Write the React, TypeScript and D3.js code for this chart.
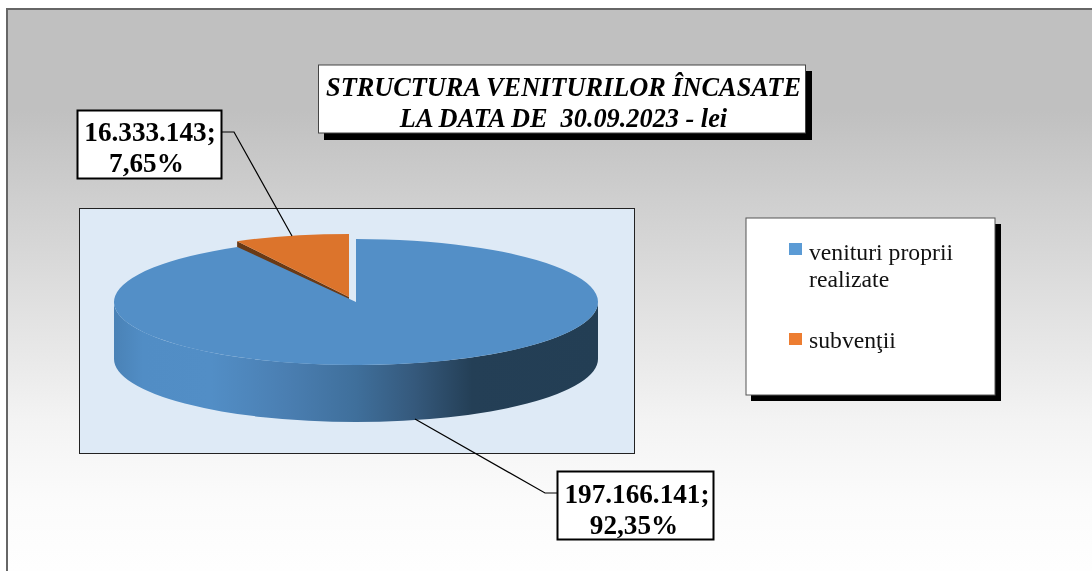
import * as d3 from "d3";

const categories = ["venituri proprii realizate", "subvenţii"];
const amounts = [197166141, 16333143];
const amountLabels = ["197.166.141;", "16.333.143;"];
const percentLabels = ["92,35%", "7,65%"];
const titleLines = ["STRUCTURA VENITURILOR ÎNCASATE", "LA DATA DE  30.09.2023 - lei"];
const legendColors = ["#5b9bd5", "#ed7d31"];

const WIDTH = 1092;
const HEIGHT = 571;
const FONT = "'Liberation Serif', serif";

// pie geometry
const cx = 356;
const cy = 302;
const rx = 242;
const ry = 63;
const depth = 57;
const explode = { x: -7, y: -5 };
const cutGap = (1.8 * Math.PI) / 180;

const slices = d3.pie<number>().sort(null).startAngle(0).endAngle(2 * Math.PI)(amounts);
const arc = d3.arc<any>().innerRadius(0).outerRadius(rx);

// angle is clockwise from 12 o'clock, as in d3.arc
const project = (a: number) => [rx * Math.sin(a), -ry * Math.cos(a)];

function BoxedLabel({ x, y, w, h, lines, baselines, centers }: any) {
  return (
    <g>
      <rect x={x} y={y} width={w} height={h} fill="#fff" stroke="#000" strokeWidth={2} />
      {lines.map((t: string, i: number) => (
        <text key={i} x={centers[i]} y={baselines[i]} textAnchor="middle" fontFamily={FONT} fontWeight="bold" fontSize={27.2} fill="#000">
          {t}
        </text>
      ))}
    </g>
  );
}

export default function App() {
  const [blue, orange] = slices;
  const [ox, oy] = project(orange.startAngle);
  const sidePath = `M${cx - rx},${cy} A${rx},${ry} 0 0 0 ${cx + rx},${cy} V${cy + depth} A${rx},${ry} 0 0 1 ${cx - rx},${cy + depth} Z`;
  const orangeCut = `M0,0 L${ox},${oy} v${depth} L0,${depth} Z`;

  return (
    <svg width={WIDTH} height={HEIGHT} style={{ position: "absolute", left: 0, top: 0, filter: "blur(0.35px)" }}>
      <defs>
        <linearGradient id="bg" gradientUnits="userSpaceOnUse" x1="0" y1="10" x2="0" y2="570">
          <stop offset="0.18" stopColor="#c0c0c0" />
          <stop offset="0.34" stopColor="#cfcfcf" />
          <stop offset="0.73" stopColor="#f3f3f3" />
          <stop offset="0.875" stopColor="#fbfbfb" />
          <stop offset="1" stopColor="#fefefe" />
        </linearGradient>
        <linearGradient id="side" gradientUnits="userSpaceOnUse" x1={cx - rx} y1="0" x2={cx + rx} y2="0">
          <stop offset="0" stopColor="#4a82b6" />
          <stop offset="0.06" stopColor="#518dc5" />
          <stop offset="0.2" stopColor="#528ec6" />
          <stop offset="0.36" stopColor="#4a7eb1" />
          <stop offset="0.5" stopColor="#3f6f9b" />
          <stop offset="0.62" stopColor="#35597c" />
          <stop offset="0.74" stopColor="#243f56" />
          <stop offset="1" stopColor="#233e54" />
        </linearGradient>
      </defs>

      <rect x={7} y={9} width={WIDTH} height={HEIGHT} fill="url(#bg)" stroke="#666" strokeWidth={2} />

      {/* plot area */}
      <rect x={79.5} y={208.5} width={555} height={245} fill="#deeaf6" stroke="#222" strokeWidth={1} />

      {/* pie */}
      <g transform={`translate(${cx + explode.x},${cy + explode.y})`}>
        <path d={orangeCut} fill="#6a3a16" />
        <path d={arc(orange) as string} transform={`scale(1,${ry / rx})`} fill="#dc742c" />
      </g>
      <path d={sidePath} fill="url(#side)" />
      <path
        d={arc({ ...blue, endAngle: blue.endAngle - cutGap }) as string}
        transform={`translate(${cx},${cy}) scale(1,${ry / rx})`}
        fill="#538fc7"
      />

      {/* leader lines */}
      <polyline points="222,132 234,132 292,236" fill="none" stroke="#000" strokeWidth={1.2} />
      <polyline points="557,493 545,493 415,419" fill="none" stroke="#000" strokeWidth={1.2} />

      {/* title */}
      <rect x={324} y={71} width={488} height={69} fill="#000" />
      <rect x={318.5} y={65} width={487} height={68} fill="#fff" stroke="#444" strokeWidth={1} />
      {titleLines.map((t, i) => (
        <text
          key={t}
          x={563.5}
          y={[96, 127][i]}
          textAnchor="middle"
          fontFamily={FONT}
          fontStyle="italic"
          fontWeight="bold"
          fontSize={26.3}
          fill="#000"
          style={{ whiteSpace: "pre" }}
        >
          {t}
        </text>
      ))}

      <BoxedLabel x={77.5} y={110.5} w={144} h={68} lines={[amountLabels[1], percentLabels[1]]} baselines={[141, 172]} centers={[150, 146.5]} />
      <BoxedLabel x={557.5} y={471.5} w={156} h={68} lines={[amountLabels[0], percentLabels[0]]} baselines={[503, 534]} centers={[637, 634]} />

      {/* legend */}
      <rect x={751} y={224} width={250} height={177} fill="#000" />
      <rect x={746} y={218} width={249} height={177} fill="#fff" stroke="#555" strokeWidth={1} />
      <rect x={789} y={243} width={13} height={12} fill={legendColors[0]} />
      <text x={809} y={260} fontFamily={FONT} fontSize={23.7} fill="#111">venituri proprii</text>
      <text x={809} y={287} fontFamily={FONT} fontSize={23.7} fill="#111">realizate</text>
      <rect x={789} y={333} width={13} height={12} fill={legendColors[1]} />
      <text x={809} y={348} fontFamily={FONT} fontSize={23.7} fill="#111">{categories[1]}</text>
    </svg>
  );
}
